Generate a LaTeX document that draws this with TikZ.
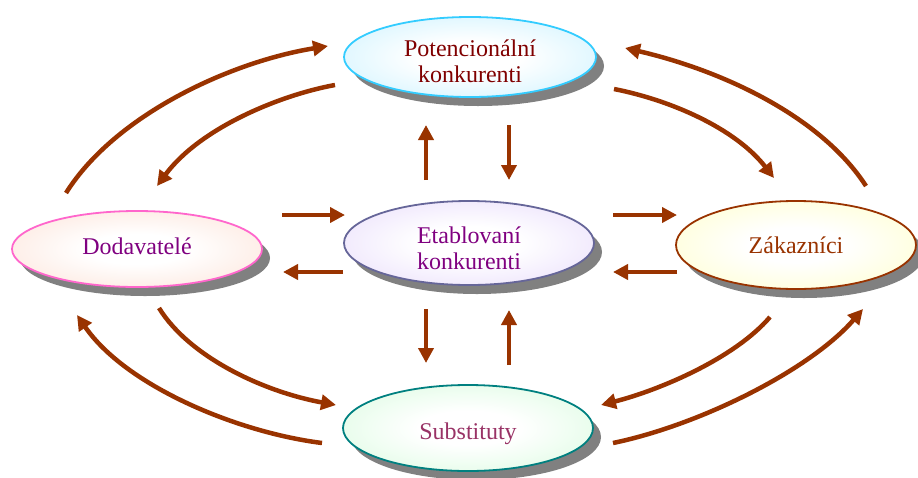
\documentclass[tikz,border=0pt]{standalone}
\usepackage{fontspec}
\setmainfont{Liberation Serif}
\usetikzlibrary{shapes.geometric,arrows.meta,calc,shadows}

\definecolor{arrowbrown}{RGB}{153,51,0}
\definecolor{shadowgray}{RGB}{128,128,128}
\definecolor{potfill}{RGB}{180,236,255}
\definecolor{potline}{RGB}{51,204,255}
\definecolor{pottext}{RGB}{128,0,0}
\definecolor{dodfill}{RGB}{252,214,198}
\definecolor{dodline}{RGB}{255,102,204}
\definecolor{dodtext}{RGB}{128,0,128}
\definecolor{etafill}{RGB}{222,204,250}
\definecolor{etaline}{RGB}{102,102,153}
\definecolor{etatext}{RGB}{128,0,128}
\definecolor{zakfill}{RGB}{255,255,180}
\definecolor{zakline}{RGB}{153,51,0}
\definecolor{zaktext}{RGB}{153,51,0}
\definecolor{subfill}{RGB}{200,250,208}
\definecolor{subline}{RGB}{0,128,128}
\definecolor{subtext}{RGB}{153,51,102}

% pale centre fading to the tint at the rim
\pgfdeclareradialshading{potshade}{\pgfpoint{0bp}{0bp}}{color(0bp)=(white); color(10bp)=(white); color(48bp)=(potfill); color(50bp)=(potfill)}
\pgfdeclareradialshading{dodshade}{\pgfpoint{0bp}{0bp}}{color(0bp)=(white); color(10bp)=(white); color(48bp)=(dodfill); color(50bp)=(dodfill)}
\pgfdeclareradialshading{etashade}{\pgfpoint{0bp}{0bp}}{color(0bp)=(white); color(10bp)=(white); color(48bp)=(etafill); color(50bp)=(etafill)}
\pgfdeclareradialshading{zakshade}{\pgfpoint{0bp}{0bp}}{color(0bp)=(white); color(10bp)=(white); color(48bp)=(zakfill); color(50bp)=(zakfill)}
\pgfdeclareradialshading{subshade}{\pgfpoint{0bp}{0bp}}{color(0bp)=(white); color(10bp)=(white); color(48bp)=(subfill); color(50bp)=(subfill)}

\tikzset{
  blob/.style={ellipse, inner sep=0pt, line width=1.8pt, align=center,
    font=\fontsize{24}{26}\selectfont,
    general shadow={fill=shadowgray, shadow xshift=8pt, shadow yshift=-9pt}},
  flow/.style={draw=arrowbrown, line width=4.5pt,
    -{Triangle[length=15pt,width=15pt]}},
}

\begin{document}
\begin{tikzpicture}[x=1pt,y=-1pt]
\useasboundingbox (0,0) rectangle (918,477);

% five market forces (invisible struts set the text a little low in each oval)
\node[blob, minimum width=252pt, minimum height=80pt, draw=potline,
  shading=potshade, text=pottext]
  (pot) at (470,57) {\rule{0pt}{25pt}Potencionální\\konkurenti};
\node[blob, minimum width=250pt, minimum height=76pt, draw=dodline,
  shading=dodshade, text=dodtext]
  (dod) at (137,249) {\rule[-6pt]{0pt}{6pt}Dodavatelé};
\node[blob, minimum width=250pt, minimum height=84pt, draw=etaline,
  shading=etashade, text=etatext]
  (eta) at (469,243) {\rule{0pt}{26.5pt}Etablovaní\\konkurenti};
\node[blob, minimum width=240pt, minimum height=88pt, draw=zakline,
  shading=zakshade, text=zaktext]
  (zak) at (796,245) {Zákazníci};
\node[blob, minimum width=250pt, minimum height=86pt, draw=subline,
  shading=subshade, text=subtext]
  (sub) at (468,428) {\rule{0pt}{28.5pt}Substituty};

% outer curved links
\draw[flow] ($(dod.center)+(-71,-56)$) .. controls +(49,-78) and +(-98,16) .. ($(pot.center)+(-142,-11)$);
\draw[flow] ($(pot.center)+(-135,28)$) .. controls +(-55,10) and +(43,-58) .. ($(dod.center)+(20,-63)$);
\draw[flow] ($(zak.center)+(70,-59)$) .. controls +(-46,-71) and +(95,22) .. ($(pot.center)+(155,-9)$);
\draw[flow] ($(pot.center)+(144,32)$) .. controls +(56,11) and +(-39,-50) .. ($(zak.center)+(-22,-67)$);
\draw[flow] ($(dod.center)+(22,59)$) .. controls +(31,50) and +(-71,-13) .. ($(sub.center)+(-132,-23)$);
\draw[flow] ($(sub.center)+(-146,15)$) .. controls +(-87,-11) and +(48,70) .. ($(dod.center)+(-60,66)$);
\draw[flow] ($(zak.center)+(-26,72)$) .. controls +(-35,41) and +(59,-15) .. ($(sub.center)+(133,-23)$);
\draw[flow] ($(sub.center)+(145,15)$) .. controls +(87,-18) and +(-53,61) .. ($(zak.center)+(67,64)$);

% straight links around the established competitors
\draw[flow] ($(eta.center)+(-43,-63)$) -- ($(pot.center)+(-44,68)$);
\draw[flow] ($(pot.center)+(39,68)$) -- ($(eta.center)+(40,-63)$);
\draw[flow] ($(eta.center)+(-43,66)$) -- ($(sub.center)+(-42,-65)$);
\draw[flow] ($(sub.center)+(41,-63)$) -- ($(eta.center)+(40,67)$);
\draw[flow] ($(dod.center)+(145,-34)$) -- ($(eta.center)+(-124,-28)$);
\draw[flow] ($(eta.center)+(-126,29)$) -- ($(dod.center)+(146,23)$);
\draw[flow] ($(eta.center)+(144,-28)$) -- ($(zak.center)+(-119,-30)$);
\draw[flow] ($(zak.center)+(-119,27)$) -- ($(eta.center)+(144,29)$);
\end{tikzpicture}
\end{document}
